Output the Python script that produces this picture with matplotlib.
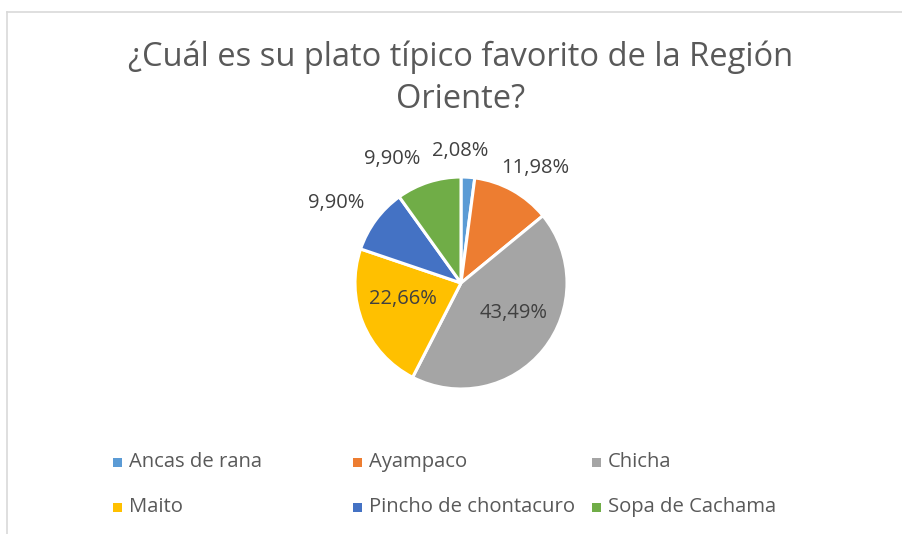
"""Pie chart: favourite typical dish of the Región Oriente."""
import matplotlib
matplotlib.use('Agg')
import matplotlib.pyplot as plt
import numpy as np
from matplotlib.lines import Line2D
from matplotlib.patches import Rectangle

plt.rcParams['font.family'] = ['Open Sans', 'DejaVu Sans']

# data
dishes = ['Ancas de rana', 'Ayampaco', 'Chicha', 'Maito',
          'Pincho de chontacuro', 'Sopa de Cachama']
shares = [2.08, 11.98, 43.49, 22.66, 9.90, 9.90]
colors = ['#5B9BD5', '#ED7D31', '#A5A5A5', '#FFC000', '#4472C4', '#70AD47']

# label placement (radius in pie units, angular nudge in degrees)
label_r = [1.25, 1.29, 0.57, 0.57, 1.40, 1.34]
label_nudge = [-4, 4, -9, 7, -4, -11]

W, H = 902, 534
fig = plt.figure(figsize=(W / 100, H / 100), dpi=100)

# pie axes: centre (461, 283) px, radius 106 px
cx, cy, R, s = 461, 283, 106, 1.6
half = R * s
ax = fig.add_axes([(cx - half) / W, (H - cy - half) / H, 2 * half / W, 2 * half / H])

wedges, _ = ax.pie(shares, colors=colors, startangle=90, counterclock=False,
                   radius=1, wedgeprops=dict(edgecolor='white', linewidth=2.2))
ax.set_xlim(-s, s)
ax.set_ylim(-s, s)
ax.axis('off')

total = sum(shares)
cum = 0
for v, r, nd in zip(shares, label_r, label_nudge):
    mid = (cum + v / 2) / total * 360 + nd
    cum += v
    a = np.deg2rad(mid)
    ax.text(r * np.sin(a), r * np.cos(a), f'{v:.2f}%'.replace('.', ','),
            ha='center', va='center', fontsize=14.5, color='#404040')

tx = 460.5 / W
fig.text(tx, 1 - 57 / H, '¿Cuál es su plato típico favorito de la Región',
         ha='center', va='center', fontsize=23.5, color='#595959')
fig.text(tx, 1 - 100 / H, 'Oriente?',
         ha='center', va='center', fontsize=23.5, color='#595959')

# legend, 3 columns x 2 rows
col_x = [117, 357, 596]
row_y = [462, 507]
for i, (name, c) in enumerate(zip(dishes, colors)):
    x = col_x[i % 3]
    y = row_y[i // 3]
    fig.add_artist(Rectangle(((x - 4.5) / W, 1 - (y + 4.5) / H), 9 / W, 9 / H,
                             transform=fig.transFigure, color=c, lw=0))
    fig.text((x + 12) / W, 1 - y / H, name, ha='left', va='center',
             fontsize=14.6, color='#595959')

# chart border (only top and left visible)
fig.add_artist(Line2D([7 / W, 1], [1 - 12 / H, 1 - 12 / H], color='#D9D9D9', lw=1.2))
fig.add_artist(Line2D([7 / W, 7 / W], [0, 1 - 12 / H], color='#D9D9D9', lw=1.2))

fig.savefig('out.png', dpi=100)
